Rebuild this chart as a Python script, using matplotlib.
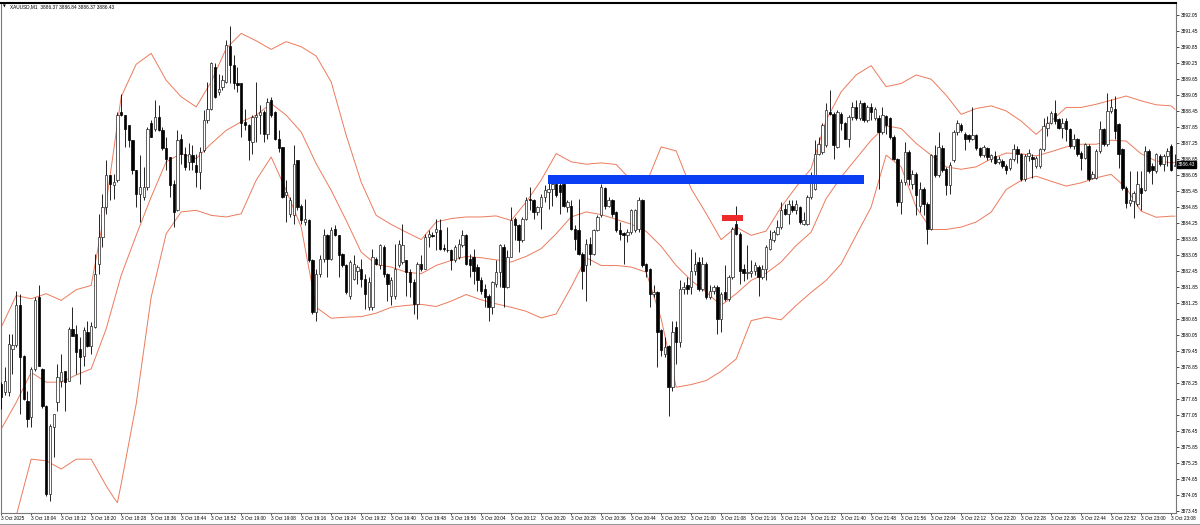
import matplotlib
matplotlib.use("Agg")
import matplotlib.pyplot as plt
import matplotlib.transforms as mtransforms
from matplotlib.patches import Rectangle
import pandas as pd

symbol = "XAUUSD,M1"
last_ohlc = [3886.37, 3886.84, 3886.37, 3886.43]
start_time = "2025-10-03 17:56"

opens = [
3878.20, 3877.89, 3877.89, 3879.52, 3879.65, 3881.15, 3879.27, 3877.58, 3876.95, 3878.77,
3881.46, 3878.77, 3877.39, 3874.07, 3876.57, 3877.51, 3878.33, 3878.70, 3878.33, 3880.27,
3880.08, 3879.52, 3879.27, 3880.14, 3879.64, 3880.33, 3882.71, 3883.72, 3884.84, 3886.03,
3885.66, 3885.85, 3888.42, 3888.29, 3887.91, 3887.35, 3886.22, 3885.35, 3885.22, 3885.60,
3887.98, 3887.79, 3888.23, 3887.73, 3887.04, 3886.72, 3885.72, 3884.72, 3887.41, 3886.85,
3886.54, 3886.79, 3886.41, 3886.16, 3886.97, 3888.10, 3888.54, 3890.11, 3889.17, 3889.35,
3889.54, 3890.88, 3890.17, 3889.48, 3889.48, 3888.04, 3887.91, 3887.29, 3888.23, 3888.29,
3888.42, 3887.60, 3888.85, 3888.42, 3887.41, 3887.10, 3885.28, 3884.60, 3884.53, 3886.60,
3884.90, 3884.28, 3884.34, 3882.84, 3880.90, 3882.34, 3882.90, 3883.78, 3882.90, 3884.03,
3883.78, 3883.09, 3882.65, 3881.52, 3882.15, 3882.46, 3882.52, 3882.15, 3881.08, 3881.08,
3882.90, 3882.65, 3883.34, 3882.34, 3881.52, 3881.52, 3882.65, 3882.78, 3882.84, 3882.40,
3882.03, 3881.21, 3882.72, 3882.53, 3883.72, 3883.80, 3883.90, 3883.99, 3883.31, 3883.24,
3883.22, 3882.84, 3882.97, 3883.40, 3883.78, 3882.90, 3882.97, 3882.59, 3882.09, 3881.77,
3881.52, 3881.08, 3881.96, 3882.40, 3883.34, 3881.84, 3882.97, 3884.40, 3884.15, 3883.59,
3884.40, 3885.16, 3885.10, 3884.66, 3884.84, 3885.22, 3885.41, 3885.53, 3885.72, 3885.66,
3885.72, 3884.84, 3884.90, 3884.03, 3883.97, 3883.09, 3882.65, 3883.47, 3883.09, 3883.97,
3884.53, 3885.57, 3884.90, 3885.10, 3884.66, 3883.97, 3883.87, 3883.78, 3883.90, 3883.97,
3884.03, 3885.10, 3882.72, 3882.53, 3881.59, 3881.65, 3880.21, 3879.33, 3879.64, 3878.08,
3880.33, 3879.77, 3881.77, 3881.90, 3881.84, 3882.46, 3882.78, 3881.77, 3882.72, 3881.46,
3881.71, 3881.84, 3880.65, 3881.65, 3881.40, 3882.21, 3884.22, 3883.84, 3882.53, 3882.35,
3882.36, 3882.46, 3882.60, 3882.21, 3882.53, 3883.28, 3883.59, 3883.84, 3884.09, 3884.78,
3884.59, 3884.90, 3884.72, 3884.84, 3884.22, 3884.22, 3885.22, 3885.53, 3886.85, 3886.91,
3887.16, 3888.42, 3888.35, 3887.10, 3888.35, 3887.98, 3887.41, 3888.23, 3888.60, 3888.17,
3888.73, 3888.10, 3888.60, 3888.17, 3888.17, 3887.66, 3888.27, 3888.17, 3887.48, 3886.66,
3885.03, 3885.78, 3886.91, 3885.72, 3886.10, 3884.90, 3885.53, 3884.97, 3884.03, 3886.79,
3886.03, 3887.04, 3886.28, 3885.66, 3886.60, 3887.66, 3887.91, 3887.60, 3887.54, 3887.41,
3887.54, 3887.04, 3886.79, 3887.04, 3886.66, 3886.76, 3886.54, 3886.57, 3886.38, 3886.32,
3886.63, 3887.01, 3886.82, 3885.88, 3886.76, 3886.72, 3886.38, 3886.38, 3887.01, 3887.82,
3888.01, 3888.39, 3888.13, 3887.82, 3888.07, 3887.76, 3887.13, 3887.38, 3886.88, 3886.69,
3887.13, 3885.94, 3885.94, 3886.94, 3887.76, 3887.20, 3888.45, 3888.51, 3887.95, 3887.01,
3885.56, 3885.00, 3885.06, 3884.94, 3885.56, 3885.50, 3886.94, 3886.38, 3886.19, 3886.76,
3886.44, 3886.76, 3887.13, 3886.37]

highs = [
3878.27, 3878.83, 3880.08, 3880.08, 3881.71, 3881.59, 3879.30, 3877.95, 3878.83, 3881.46,
3881.90, 3878.80, 3877.40, 3876.70, 3877.07, 3878.95, 3879.33, 3878.70, 3880.33, 3881.09,
3880.40, 3879.96, 3880.33, 3880.58, 3880.52, 3883.09, 3884.59, 3885.35, 3886.60, 3886.05,
3886.10, 3888.42, 3889.10, 3888.30, 3887.91, 3887.35, 3886.22, 3886.79, 3886.35, 3887.85,
3888.10, 3888.85, 3888.67, 3887.85, 3887.48, 3886.72, 3885.85, 3887.73, 3887.60, 3887.10,
3887.23, 3887.16, 3886.85, 3887.10, 3888.48, 3889.54, 3890.29, 3890.23, 3889.85, 3889.79,
3891.11, 3891.63, 3890.54, 3890.10, 3889.50, 3888.54, 3887.95, 3888.29, 3889.54, 3888.67,
3888.48, 3888.92, 3888.98, 3888.45, 3887.73, 3887.10, 3885.85, 3885.22, 3887.16, 3886.60,
3884.97, 3885.15, 3884.40, 3882.90, 3882.52, 3883.03, 3884.03, 3883.84, 3884.09, 3884.15,
3883.80, 3883.10, 3882.72, 3882.84, 3883.03, 3882.65, 3882.90, 3882.34, 3882.21, 3883.28,
3882.96, 3883.47, 3883.40, 3882.35, 3882.21, 3883.47, 3883.60, 3884.22, 3882.85, 3882.50,
3882.15, 3882.78, 3883.03, 3883.84, 3883.97, 3883.90, 3884.40, 3884.40, 3883.47, 3884.09,
3883.25, 3883.40, 3883.66, 3883.97, 3883.84, 3883.09, 3883.28, 3882.72, 3882.20, 3881.96,
3881.58, 3882.05, 3882.84, 3883.47, 3883.47, 3883.22, 3884.84, 3884.47, 3884.22, 3884.47,
3885.22, 3885.60, 3885.16, 3884.90, 3885.35, 3885.66, 3885.78, 3885.85, 3885.78, 3885.78,
3885.78, 3885.10, 3885.10, 3884.15, 3885.16, 3883.15, 3883.66, 3883.72, 3884.03, 3884.53,
3885.72, 3885.60, 3885.22, 3885.16, 3884.70, 3884.28, 3883.90, 3884.03, 3884.78, 3884.78,
3885.22, 3885.16, 3882.75, 3882.55, 3881.90, 3881.71, 3880.27, 3879.96, 3879.65, 3880.58,
3880.58, 3882.09, 3882.03, 3882.21, 3883.28, 3883.15, 3882.97, 3882.97, 3882.78, 3881.90,
3881.90, 3881.90, 3881.65, 3882.65, 3882.28, 3884.09, 3884.90, 3883.90, 3882.72, 3883.40,
3882.84, 3882.78, 3882.65, 3882.65, 3883.40, 3883.97, 3883.97, 3884.34, 3885.03, 3884.97,
3885.10, 3885.10, 3885.10, 3884.90, 3884.65, 3885.28, 3886.16, 3887.35, 3887.48, 3887.98,
3888.73, 3889.23, 3888.42, 3888.48, 3888.42, 3888.04, 3888.29, 3888.79, 3888.85, 3888.85,
3888.79, 3888.67, 3888.73, 3888.60, 3888.29, 3888.60, 3888.29, 3888.23, 3887.54, 3886.70,
3885.90, 3887.29, 3886.97, 3886.22, 3886.16, 3885.78, 3885.60, 3885.03, 3886.85, 3887.16,
3887.66, 3887.16, 3886.35, 3886.54, 3887.73, 3888.10, 3887.98, 3887.66, 3887.60, 3888.60,
3887.60, 3887.10, 3887.16, 3887.10, 3886.85, 3886.94, 3886.76, 3886.63, 3886.44, 3886.69,
3887.20, 3887.13, 3886.88, 3886.82, 3887.01, 3886.82, 3886.76, 3887.07, 3888.20, 3888.26,
3888.45, 3888.85, 3888.20, 3888.20, 3888.20, 3887.82, 3887.57, 3887.45, 3886.94, 3887.26,
3887.20, 3886.19, 3887.01, 3888.07, 3887.82, 3889.14, 3888.89, 3889.01, 3888.01, 3887.07,
3885.63, 3886.19, 3885.44, 3886.19, 3886.19, 3887.13, 3887.01, 3886.51, 3886.88, 3886.82,
3886.82, 3887.07, 3887.20, 3886.84]

lows = [
3877.26, 3877.80, 3877.76, 3878.58, 3879.60, 3877.07, 3877.60, 3876.57, 3876.57, 3878.70,
3878.89, 3877.30, 3874.00, 3873.82, 3875.45, 3877.20, 3878.08, 3877.20, 3878.30, 3880.00,
3878.58, 3878.20, 3878.89, 3879.60, 3879.33, 3880.30, 3882.34, 3883.34, 3884.60, 3885.10,
3885.16, 3885.80, 3888.25, 3887.10, 3887.10, 3886.10, 3884.84, 3884.28, 3885.10, 3885.47,
3887.48, 3887.70, 3887.70, 3887.00, 3886.22, 3885.22, 3884.09, 3884.70, 3886.47, 3886.22,
3886.22, 3886.22, 3885.60, 3885.53, 3886.90, 3888.00, 3888.48, 3888.92, 3889.04, 3889.23,
3889.48, 3889.48, 3889.29, 3889.17, 3887.47, 3887.73, 3886.60, 3886.85, 3887.29, 3887.60,
3887.29, 3887.41, 3888.23, 3887.35, 3886.91, 3885.20, 3884.28, 3884.47, 3884.21, 3884.72,
3884.21, 3884.15, 3882.78, 3880.83, 3880.58, 3882.21, 3882.78, 3882.21, 3882.84, 3883.75,
3882.21, 3882.60, 3881.58, 3881.40, 3882.09, 3881.96, 3881.83, 3881.02, 3880.96, 3880.96,
3882.65, 3882.52, 3882.21, 3881.33, 3881.15, 3881.40, 3882.59, 3882.70, 3881.52, 3881.46,
3880.83, 3880.65, 3882.46, 3882.50, 3883.34, 3883.70, 3883.22, 3883.22, 3883.20, 3883.15,
3882.47, 3882.78, 3882.90, 3883.34, 3882.65, 3882.21, 3881.96, 3881.71, 3881.59, 3881.08,
3880.58, 3880.83, 3881.84, 3881.84, 3881.08, 3881.80, 3882.95, 3883.59, 3883.15, 3883.53,
3884.34, 3884.72, 3884.40, 3884.53, 3884.03, 3885.03, 3884.78, 3884.90, 3885.22, 3884.60,
3884.84, 3884.66, 3883.97, 3883.22, 3883.03, 3881.77, 3881.33, 3882.65, 3883.03, 3883.95,
3884.47, 3884.78, 3884.84, 3884.47, 3883.90, 3883.59, 3882.72, 3883.53, 3883.84, 3883.90,
3883.90, 3882.59, 3882.21, 3881.08, 3881.46, 3878.83, 3879.27, 3879.20, 3877.01, 3877.95,
3878.95, 3879.58, 3881.58, 3881.58, 3881.58, 3882.28, 3881.71, 3881.71, 3881.40, 3881.40,
3881.59, 3880.08, 3880.15, 3881.33, 3881.33, 3882.15, 3883.78, 3881.96, 3882.08, 3882.15,
3882.21, 3882.28, 3881.52, 3882.15, 3882.09, 3883.22, 3883.53, 3883.78, 3884.03, 3884.53,
3884.22, 3884.66, 3884.60, 3884.22, 3884.15, 3884.15, 3885.16, 3885.47, 3886.79, 3886.85,
3887.10, 3888.29, 3886.66, 3887.04, 3887.73, 3887.40, 3887.10, 3888.10, 3888.10, 3888.10,
3888.04, 3888.04, 3888.10, 3888.10, 3885.53, 3887.60, 3887.60, 3887.41, 3886.60, 3884.90,
3884.60, 3885.66, 3885.66, 3885.53, 3884.53, 3884.66, 3884.53, 3883.47, 3883.97, 3885.97,
3885.97, 3886.16, 3885.28, 3885.35, 3886.54, 3887.54, 3887.66, 3886.98, 3887.29, 3887.35,
3886.98, 3886.72, 3886.72, 3886.60, 3886.54, 3886.44, 3886.44, 3886.32, 3886.07, 3886.25,
3886.57, 3886.51, 3885.82, 3885.82, 3886.57, 3885.94, 3886.32, 3886.32, 3886.94, 3887.51,
3887.95, 3887.95, 3887.76, 3887.45, 3887.32, 3887.07, 3887.01, 3886.76, 3886.25, 3886.63,
3885.82, 3885.88, 3885.88, 3886.88, 3887.13, 3887.13, 3888.39, 3887.38, 3886.32, 3885.50,
3884.81, 3884.87, 3884.43, 3884.87, 3884.75, 3885.44, 3886.13, 3885.69, 3886.13, 3886.38,
3886.19, 3886.38, 3886.19, 3886.37]

closes = [
3877.70, 3878.33, 3879.71, 3879.65, 3881.15, 3879.21, 3877.64, 3876.89, 3878.77, 3881.34,
3878.89, 3877.39, 3874.07, 3876.64, 3877.07, 3878.45, 3878.64, 3878.27, 3880.27, 3880.02,
3879.40, 3879.21, 3880.21, 3879.64, 3880.36, 3882.34, 3883.72, 3884.84, 3886.03, 3885.72,
3885.78, 3888.29, 3888.29, 3887.79, 3887.35, 3886.22, 3885.35, 3885.60, 3885.60, 3887.79,
3887.48, 3888.23, 3887.73, 3887.04, 3886.66, 3885.66, 3884.66, 3887.35, 3886.85, 3886.35,
3886.85, 3886.54, 3886.16, 3886.91, 3888.10, 3888.54, 3890.23, 3888.98, 3889.29, 3889.60,
3890.92, 3890.17, 3889.48, 3889.42, 3887.98, 3887.91, 3887.35, 3888.23, 3888.29, 3888.42,
3887.60, 3888.79, 3888.29, 3887.41, 3887.04, 3885.22, 3885.40, 3885.10, 3886.47, 3884.84,
3884.34, 3884.40, 3882.84, 3880.90, 3882.34, 3882.90, 3883.78, 3882.90, 3883.97, 3883.78,
3883.03, 3882.65, 3881.65, 3882.78, 3882.72, 3882.59, 3882.15, 3881.58, 3882.02, 3882.96,
3882.71, 3883.40, 3882.34, 3881.96, 3882.09, 3882.52, 3883.47, 3883.40, 3882.40, 3882.03,
3881.21, 3882.72, 3882.53, 3883.72, 3883.84, 3883.75, 3884.03, 3883.28, 3883.25, 3883.22,
3882.84, 3883.34, 3883.47, 3883.78, 3882.72, 3882.65, 3882.46, 3882.09, 3881.71, 3881.46,
3881.08, 3882.02, 3882.40, 3883.40, 3881.84, 3882.97, 3884.34, 3884.15, 3883.59, 3884.40,
3885.10, 3885.10, 3884.66, 3884.84, 3885.22, 3885.47, 3885.53, 3885.72, 3885.28, 3885.41,
3884.90, 3885.03, 3884.03, 3883.65, 3883.09, 3882.46, 3883.47, 3883.09, 3883.97, 3884.47,
3885.60, 3884.90, 3885.10, 3884.60, 3883.97, 3883.84, 3883.78, 3883.90, 3884.72, 3884.72,
3885.10, 3882.65, 3882.46, 3881.59, 3881.65, 3880.15, 3879.46, 3879.58, 3878.08, 3880.15,
3879.77, 3881.77, 3881.84, 3881.77, 3882.46, 3882.72, 3881.77, 3882.72, 3881.46, 3881.71,
3881.84, 3880.65, 3881.59, 3881.40, 3882.21, 3884.03, 3883.84, 3882.46, 3882.36, 3882.40,
3882.46, 3882.65, 3882.21, 3882.52, 3883.34, 3883.65, 3883.90, 3884.09, 3884.72, 3884.59,
3884.97, 3884.72, 3884.97, 3884.28, 3884.34, 3885.22, 3885.78, 3886.85, 3887.22, 3887.91,
3888.48, 3888.35, 3887.16, 3888.42, 3887.98, 3887.41, 3888.23, 3888.60, 3888.17, 3888.73,
3888.10, 3888.60, 3888.42, 3888.54, 3887.66, 3888.29, 3887.91, 3887.48, 3886.66, 3885.03,
3885.78, 3886.91, 3885.91, 3886.10, 3885.28, 3885.53, 3884.97, 3884.03, 3886.79, 3886.03,
3887.10, 3886.22, 3885.66, 3886.41, 3887.66, 3887.98, 3887.73, 3887.41, 3887.41, 3887.54,
3887.04, 3886.79, 3887.10, 3886.72, 3886.79, 3886.51, 3886.63, 3886.38, 3886.25, 3886.63,
3887.01, 3886.82, 3885.88, 3886.76, 3886.88, 3886.63, 3886.69, 3887.01, 3887.88, 3888.01,
3888.39, 3888.07, 3887.82, 3888.01, 3887.76, 3887.13, 3887.38, 3886.82, 3886.69, 3887.20,
3885.88, 3886.07, 3886.94, 3887.76, 3887.20, 3888.45, 3888.58, 3887.70, 3886.82, 3885.56,
3885.00, 3885.09, 3885.38, 3885.69, 3885.38, 3886.94, 3886.19, 3886.25, 3886.82, 3886.44,
3886.76, 3886.94, 3886.25, 3886.43]

# Bollinger bands read every 4th bar (plus the last bar)
band_bars = list(range(0, 313, 4)) + [313]
band_upper = [
3880.33, 3881.52, 3881.40, 3881.59, 3881.34, 3881.74, 3881.90, 3884.97, 3888.98, 3890.20,
3890.61, 3889.60, 3888.98, 3888.60, 3889.54, 3890.79, 3891.36, 3891.08, 3890.76, 3891.05,
3890.86, 3890.51, 3889.54, 3887.54, 3885.78, 3884.53, 3884.19, 3883.90, 3883.62, 3884.28,
3884.41, 3884.47, 3884.47, 3884.51, 3884.34, 3885.03, 3885.85, 3886.85, 3886.54, 3886.45,
3886.50, 3886.44, 3885.85, 3885.72, 3887.10, 3886.95, 3885.53, 3884.60, 3883.62, 3884.09,
3883.78, 3883.94, 3884.84, 3885.60, 3886.29, 3888.10, 3889.17, 3889.80, 3890.15, 3889.36,
3889.48, 3889.80, 3889.64, 3889.04, 3888.32, 3888.54, 3888.64, 3888.45, 3888.07, 3887.57,
3888.07, 3888.58, 3888.58, 3888.70, 3888.85, 3889.01, 3888.83, 3888.68, 3888.64, 3888.51]
band_middle = [
3876.51, 3877.51, 3878.64, 3878.27, 3878.27, 3878.54, 3878.77, 3880.27, 3882.28, 3883.78,
3885.22, 3886.54, 3886.85, 3886.66, 3887.22, 3887.72, 3888.04, 3888.29, 3888.73, 3888.29,
3887.66, 3886.47, 3885.47, 3884.34, 3883.15, 3882.69, 3882.59, 3882.40, 3882.34, 3882.65,
3882.84, 3882.99, 3882.94, 3882.86, 3882.78, 3882.99, 3883.28, 3883.84, 3884.47, 3884.66,
3884.56, 3884.38, 3884.20, 3883.93, 3883.37, 3882.65, 3882.09, 3881.65, 3881.15, 3881.59,
3882.09, 3882.36, 3882.78, 3883.40, 3883.90, 3885.16, 3885.97, 3886.66, 3887.35, 3887.89,
3887.79, 3887.23, 3886.79, 3886.35, 3886.26, 3886.35, 3886.65, 3886.87, 3886.84, 3886.76,
3886.92, 3887.10, 3887.20, 3887.20, 3887.35, 3887.32, 3886.84, 3886.57, 3886.51, 3886.51]
# lower band has two extra readings around its sharp low near bar 31
lower_bars = list(range(0, 29, 4)) + [30, 31] + list(range(32, 313, 4)) + [313]
band_lower = [
3872.30, 3873.25, 3875.38, 3875.32, 3875.01, 3875.38, 3875.38, 3874.38, 3873.94, 3873.75,
3874.45, 3877.45,
3881.46, 3883.84, 3884.66, 3884.72, 3884.53, 3884.47, 3884.59, 3885.85, 3886.72, 3885.47,
3884.09, 3881.08, 3880.67, 3880.71, 3880.73, 3880.86, 3881.08, 3881.15, 3881.19, 3881.11,
3881.31, 3881.56, 3881.36, 3881.21, 3881.08, 3880.93, 3880.68, 3880.83, 3881.84, 3882.94,
3882.65, 3882.65, 3882.59, 3882.40, 3880.65, 3878.08, 3878.18, 3878.33, 3878.68, 3879.14,
3880.58, 3880.71, 3880.61, 3881.15, 3881.64, 3882.09, 3882.71, 3883.78, 3884.84, 3886.79,
3886.35, 3884.84, 3884.00, 3884.00, 3884.09, 3884.28, 3884.65, 3885.50, 3885.84, 3886.00,
3885.81, 3885.63, 3885.75, 3885.94, 3886.07, 3885.56, 3884.69, 3884.46, 3884.50, 3884.50]

# drawn objects: (price bottom, price top, start bar, end bar)
blue_zone = (3885.72, 3886.03, 145.8, 230.05)
red_mark = (3884.32, 3884.53, 192.2, 197.7)

times = pd.date_range(start_time, periods=len(closes), freq="min")
tick_bars = list(range(0, len(closes), 8))
tick_labels = ["3 Oct 2025" if i == 0 else times[i].strftime("3 Oct %H:%M") for i in tick_bars]
price_ticks = [3873.45 + 0.6 * k for k in range(32)]

W, H = 1200, 525
fig = plt.figure(figsize=(W / 100, H / 100), dpi=100)
fig.patch.set_facecolor("white")
ax = fig.add_axes([1 / W, 12 / H, 1175 / W, 510 / H])
ax.set_facecolor("white")

FONT = "Liberation Sans"
FS = 3.4

# Bollinger bands
band_col = "#EC7A5C"
ax.plot(band_bars, band_upper, color=band_col, lw=0.7, zorder=2, solid_joinstyle="round")
ax.plot(band_bars, band_middle, color=band_col, lw=0.7, zorder=2, solid_joinstyle="round")
ax.plot(lower_bars, band_lower, color=band_col, lw=0.7, zorder=2, solid_joinstyle="round")

# candles
bw = 0.62
for i, (o, h, l, c) in enumerate(zip(opens, highs, lows, closes)):
    ax.vlines(i, l, h, color="black", lw=0.6, zorder=3)
    bottom = min(o, c)
    height = max(abs(c - o), 0.025)
    if c >= o:
        ax.add_patch(Rectangle((i - bw / 2, bottom), bw, height, facecolor="white",
                               edgecolor="#222222", lw=0.5, zorder=4))
    else:
        ax.add_patch(Rectangle((i - bw / 2, bottom), bw, height, facecolor="black",
                               edgecolor="black", lw=0.5, zorder=4))

# drawn objects
lo, hi, x0, x1 = blue_zone
ax.add_patch(Rectangle((x0, lo), x1 - x0, hi - lo, facecolor="#0A3EF5", edgecolor="none", zorder=5))
lo, hi, x0, x1 = red_mark
ax.add_patch(Rectangle((x0, lo), x1 - x0, hi - lo, facecolor="#EE2A2A", edgecolor="none", zorder=5))

ax.set_xlim(-0.05, 313.3)
ax.set_ylim(3873.36, 3892.50)

# axes styling
for s in ("left", "bottom", "right"):
    ax.spines[s].set_color("#777777")
    ax.spines[s].set_linewidth(0.8)
ax.spines["top"].set_color("black")
ax.spines["top"].set_linewidth(1.5)

ax.yaxis.tick_right()
ax.set_yticks(price_ticks)
ax.set_yticklabels([f"{p:.2f}" for p in price_ticks], fontsize=FS, family=FONT)
ax.set_xticks(tick_bars)
ax.set_xticklabels(tick_labels, fontsize=FS, family=FONT, ha="left")
ax.tick_params(axis="y", direction="out", length=2.0, width=0.5, pad=1.2, colors="black")
ax.tick_params(axis="x", direction="out", length=1.5, width=0.5, pad=1.0, colors="black")

# current price label
trans = mtransforms.blended_transform_factory(ax.transAxes, ax.transData)
ax.text(1.0015, last_ohlc[3], f"{last_ohlc[3]:.2f}", transform=trans, fontsize=FS, family=FONT,
        color="white", va="center", ha="left", zorder=10,
        bbox=dict(boxstyle="square,pad=0.25", facecolor="black", edgecolor="black"))

# title
fig.text(3 / W, 1 - 7 / H, "\u25BC", fontsize=2.6, family="DejaVu Sans", va="center", ha="left")
fig.text(10 / W, 1 - 7 / H,
         f"{symbol}  " + " ".join(f"{v:.2f}" for v in last_ohlc),
         fontsize=FS, family=FONT, va="center", ha="left")

# bottom window line
fig.add_artist(plt.Line2D([0, 1], [1.5 / H, 1.5 / H], transform=fig.transFigure,
                          color="#999999", lw=0.8))

fig.savefig("out.png", dpi=100, facecolor="white")
